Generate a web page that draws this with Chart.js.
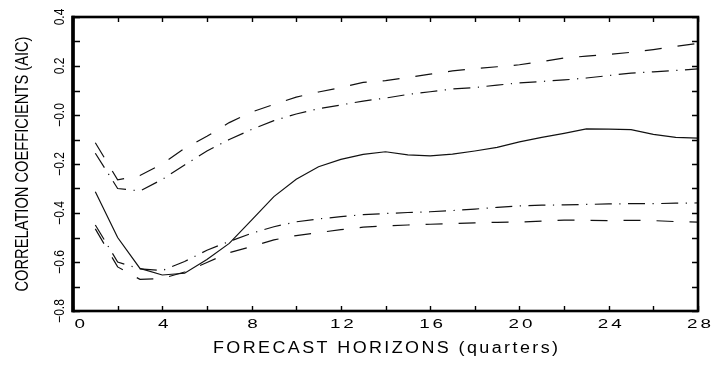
<!DOCTYPE html>
<html>
<head>
<meta charset="utf-8">
<style>
  html, body { margin: 0; padding: 0; background: #fff; }
  #wrap { width: 712px; height: 365px; }
</style>
<script src="https://cdn.jsdelivr.net/npm/chart.js@4/dist/chart.umd.min.js"></script>
</head>
<body>
<div id="wrap"><canvas id="c" width="712" height="365"></canvas></div>
<script>
// ---- data ----
const horizons = [1,2,3,4,5,6,7,8,9,10,11,12,13,14,15,16,17,18,19,20,21,22,23,24,25,26,27,28];
const correlation = [-0.313,-0.500,-0.626,-0.653,-0.646,-0.590,-0.524,-0.429,-0.333,-0.262,-0.211,-0.181,-0.161,-0.150,-0.163,-0.167,-0.160,-0.147,-0.132,-0.110,-0.091,-0.075,-0.057,-0.058,-0.060,-0.079,-0.091,-0.094];
const upperDashed = [-0.113,-0.265,-0.247,-0.200,-0.136,-0.087,-0.031,0.012,0.043,0.073,0.094,0.112,0.133,0.140,0.153,0.167,0.180,0.189,0.197,0.205,0.218,0.233,0.240,0.247,0.256,0.267,0.280,0.292];
const upperDashDot = [-0.156,-0.300,-0.310,-0.263,-0.204,-0.147,-0.100,-0.059,-0.023,0.004,0.026,0.041,0.057,0.069,0.084,0.095,0.106,0.112,0.122,0.131,0.137,0.143,0.151,0.161,0.171,0.176,0.182,0.188];
const lowerDashDot = [-0.449,-0.600,-0.628,-0.635,-0.598,-0.552,-0.516,-0.483,-0.456,-0.436,-0.424,-0.415,-0.407,-0.402,-0.398,-0.395,-0.390,-0.384,-0.377,-0.371,-0.368,-0.367,-0.365,-0.363,-0.362,-0.362,-0.360,-0.359];
const lowerDashed = [-0.465,-0.620,-0.671,-0.667,-0.641,-0.602,-0.562,-0.537,-0.510,-0.492,-0.480,-0.468,-0.458,-0.453,-0.449,-0.446,-0.443,-0.440,-0.438,-0.437,-0.433,-0.429,-0.430,-0.431,-0.430,-0.431,-0.435,-0.437];

const xTickValues = [0,4,8,12,16,20,24,28];
const xTickLabels = ["0","4","8","12","16","20","24","28"];
const yTickValues = [0.4,0.2,0.0,-0.2,-0.4,-0.6,-0.8];
const yTickLabels = ["0.4","0.2","\u22120.0","\u22120.2","\u22120.4","\u22120.6","\u22120.8"];
const xTitle = "FORECAST HORIZONS (quarters)";
const yTitle = "CORRELATION COEFFICIENTS (AIC)";

const toPts = arr => horizons.map((h, i) => ({x: h, y: arr[i]}));

const LONG_DASH = [17, 16];
const DASH_DOT = [17, 7.5, 1.2, 7.5];

function drawText(ctx, text, cx, cy, opt) {
  ctx.save();
  ctx.translate(cx, cy);
  if (opt.rot) ctx.rotate(opt.rot);
  ctx.font = opt.font;
  let sx = opt.sx || 1;
  let spacing = opt.spacing || 0;
  ctx.letterSpacing = '0px';
  const w = ctx.measureText(text).width;
  if (opt.fitWidth) {
    if (opt.fitMode === 'scale') {
      sx = opt.fitWidth / w;
    } else {
      spacing = (opt.fitWidth / sx - w) / (text.length - 1);
    }
  }
  ctx.scale(sx, 1);
  ctx.letterSpacing = spacing + 'px';
  ctx.fillStyle = '#000';
  ctx.textBaseline = 'middle';
  const total = w + spacing * (text.length - 1);
  let x0;
  if (opt.align === 'left') x0 = 0;
  else x0 = -total / 2;
  ctx.textAlign = 'left';
  ctx.fillText(text, x0, 0);
  ctx.restore();
}

const framePlugin = {
  id: 'frame',
  afterDraw(chart) {
    const {ctx, chartArea: a, scales: {x, y}} = chart;
    ctx.save();
    ctx.strokeStyle = '#000';
    ctx.lineCap = 'butt';
    // inward tick marks
    ctx.lineWidth = 1.4;
    ctx.beginPath();
    y.ticks.forEach(t => {
      const py = Math.round(y.getPixelForValue(t.value)) + 0.5;
      ctx.moveTo(a.left, py); ctx.lineTo(a.left + 7, py);
      ctx.moveTo(a.right, py); ctx.lineTo(a.right - 6, py);
    });
    x.ticks.forEach(t => {
      const px = Math.round(x.getPixelForValue(t.value)) + 0.5;
      ctx.moveTo(px, a.bottom); ctx.lineTo(px, a.bottom - 5);
      ctx.moveTo(px, a.top); ctx.lineTo(px, a.top + 5);
    });
    ctx.stroke();
    // frame
    ctx.lineWidth = 2.6;
    ctx.strokeRect(a.left, a.top, a.right - a.left, a.bottom - a.top);
    ctx.lineWidth = 3.6;
    ctx.beginPath();
    ctx.moveTo(a.left, a.top - 1.3); ctx.lineTo(a.left, a.bottom + 1.3);
    ctx.stroke();
    ctx.restore();

    // x tick labels
    xTickValues.forEach((v, i) => {
      const px = x.getPixelForValue(v);
      if (i === 0) {
        drawText(ctx, xTickLabels[i], px + 1.5, a.bottom + 13, {font: '13px "Liberation Sans", Arial, sans-serif', sx: 1.45, spacing: 2, align: 'left'});
      } else {
        drawText(ctx, xTickLabels[i], px + 1, a.bottom + 13, {font: '13px "Liberation Sans", Arial, sans-serif', sx: 1.45, spacing: 2});
      }
    });
    // y tick labels (rotated)
    yTickValues.forEach((v, i) => {
      const py = y.getPixelForValue(v);
      drawText(ctx, yTickLabels[i], a.left - 13, py, {font: '14px "Liberation Sans", Arial, sans-serif', sx: 0.86, rot: -Math.PI / 2});
    });
    // titles
    const cx = (a.left + a.right) / 2;
    const cy = (a.top + a.bottom) / 2;
    drawText(ctx, xTitle, cx, a.bottom + 38, {font: '16px "Liberation Sans", Arial, sans-serif', sx: 1.12, fitWidth: 345});
    drawText(ctx, yTitle, a.left - 50, cy, {font: '18px "Liberation Sans", Arial, sans-serif', fitWidth: 255, fitMode: 'scale', rot: -Math.PI / 2});
  }
};

const common = {pointRadius: 0, borderColor: '#111', borderWidth: 1.2, fill: false, tension: 0};

new Chart(document.getElementById('c'), {
  type: 'line',
  data: {
    datasets: [
      Object.assign({label: 'correlation', data: toPts(correlation)}, common),
      Object.assign({label: 'upper dashed', data: toPts(upperDashed), borderDash: LONG_DASH}, common),
      Object.assign({label: 'upper dash-dot', data: toPts(upperDashDot), borderDash: DASH_DOT}, common),
      Object.assign({label: 'lower dash-dot', data: toPts(lowerDashDot), borderDash: DASH_DOT}, common),
      Object.assign({label: 'lower dashed', data: toPts(lowerDashed), borderDash: LONG_DASH}, common)
    ]
  },
  options: {
    responsive: false,
    animation: false,
    devicePixelRatio: 1,
    layout: {padding: {left: 73, right: 14, top: 17, bottom: 54}},
    plugins: {legend: {display: false}, tooltip: {enabled: false}},
    scales: {
      x: {type: 'linear', display: false, min: 0, max: 28, ticks: {stepSize: 2}},
      y: {type: 'linear', display: false, min: -0.8, max: 0.4, ticks: {stepSize: 0.1}}
    }
  },
  plugins: [framePlugin]
});
</script>
</body>
</html>
